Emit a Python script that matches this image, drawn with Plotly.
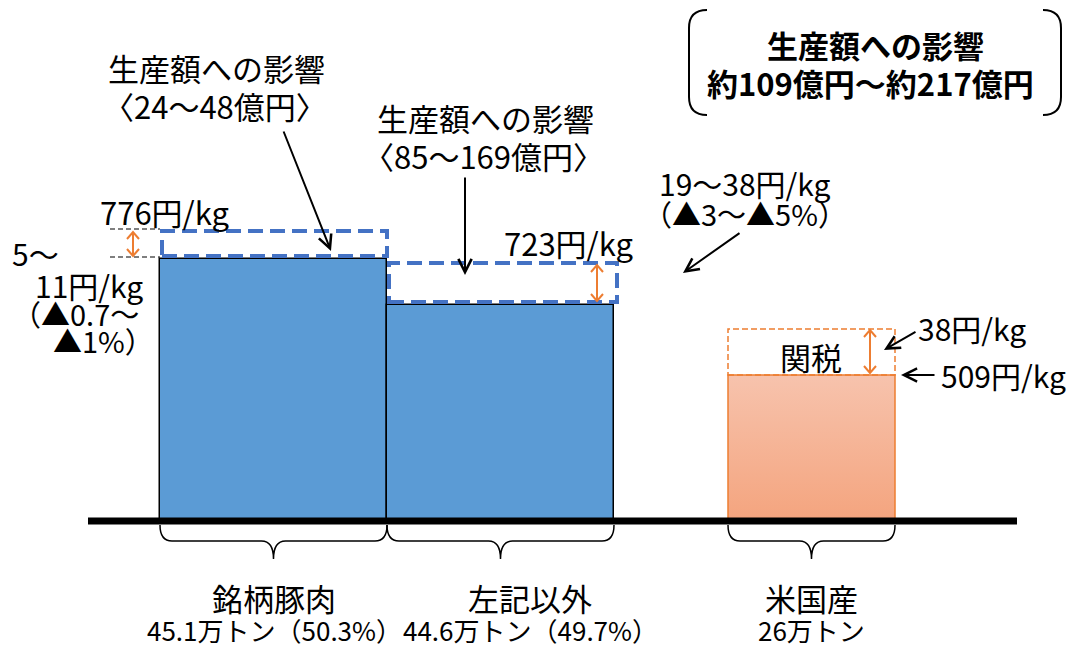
import plotly.graph_objects as go

# ---- data (schematic diagram) ----
categories = ["銘柄豚肉", "左記以外", "米国産"]
volume_labels = ["45.1万トン（50.3%）", "44.6万トン（49.7%）", "26万トン"]
prices = [776, 723, 509]          # 円/kg
tariff = 38                        # 円/kg
price_drop = ["5～11円/kg", "19～38円/kg"]
impact = ["〈24～48億円〉", "〈85～169億円〉"]
total_impact = "約109億円～約217億円"

# schematic geometry of the drawing (not to scale)
bar_left = [160, 387, 728]
bar_width = [227, 227, 167]
bar_height = [262, 216, 146]
drop_height = [25, 39]
tariff_height = 46

BLUE = "#5B9BD5"
DBLUE = "#4472C4"
ORANGE = "#ED7D31"
FONT = "Noto Sans CJK JP"
FS = 31

fig = go.Figure()

# blue bars
fig.add_trace(go.Bar(
    x=[bar_left[i] + bar_width[i] / 2 for i in range(2)],
    y=bar_height[:2], width=bar_width[:2], base=0,
    marker=dict(color=BLUE, line=dict(color="black", width=1.5)),
    hoverinfo="skip", showlegend=False))

# US bar with vertical gradient
l, w, h = bar_left[2], bar_width[2], bar_height[2]
fig.add_trace(go.Scatter(
    x=[l, l + w, l + w, l, l], y=[0, 0, h, h, 0], mode="lines", fill="toself",
    fillgradient=dict(type="vertical", colorscale=[[0, "#F4A47E"], [1, "#F7C3AD"]]),
    line=dict(color=ORANGE, width=1.5), hoverinfo="skip", showlegend=False))

shapes = []
# blue dashed boxes (price drop)
for i in range(2):
    x0 = bar_left[i] + 2
    x1 = bar_left[i] + bar_width[i] + (0 if i == 0 else 3)
    y0 = bar_height[i] + 3
    y1 = y0 + drop_height[i]
    shapes.append(dict(type="rect", xref="x", yref="y", x0=x0, x1=x1, y0=y0, y1=y1,
                       line=dict(color=DBLUE, width=4, dash="15px,7px"),
                       fillcolor="rgba(0,0,0,0)", layer="above"))
# tariff dashed box
shapes.append(dict(type="rect", xref="x", yref="y", x0=l, x1=l + w, y0=h, y1=h + tariff_height,
                   line=dict(color=ORANGE, width=1.5, dash="6px,3px"), fillcolor="rgba(0,0,0,0)"))
# black dashed guide lines left of bar 1
top1 = bar_height[0] + 3 + drop_height[0] + 2
for yy in [top1, bar_height[0] + 2]:
    shapes.append(dict(type="line", xref="x", yref="y", x0=110, x1=bar_left[0], y0=yy, y1=yy,
                       line=dict(color="black", width=1.2, dash="5px,3px")))
# baseline
shapes.append(dict(type="line", xref="x", yref="y", x0=88, x1=1017, y0=0, y1=0,
                   line=dict(color="black", width=7), layer="above"))

# braces
def brace(x0, x1, r=12):
    xc = (x0 + x1) / 2
    yt, ym, yb = -4, -20, -38
    return (f"M {x0},{yt} Q {x0},{ym} {x0+r},{ym} L {xc-r},{ym} Q {xc},{ym} {xc},{yb} "
            f"Q {xc},{ym} {xc+r},{ym} L {x1-r},{ym} Q {x1},{ym} {x1},{yt}")
for i in range(3):
    shapes.append(dict(type="path", xref="x", yref="y", path=brace(bar_left[i], bar_left[i] + bar_width[i]),
                       line=dict(color="black", width=1.5)))

# brackets around total
shapes.append(dict(type="path", xref="x", yref="y",
                   path="M 707,511 Q 689,511 689,493 L 689,424 Q 689,406 707,406",
                   line=dict(color="black", width=2)))
shapes.append(dict(type="path", xref="x", yref="y",
                   path="M 1043,511 Q 1061,511 1061,493 L 1061,424 Q 1061,406 1043,406",
                   line=dict(color="black", width=2)))

# orange double arrows (pixel-like units; 1 unit = 1 px in both axes)
def double_arrow(x, py_top, py_bot, hw=6, hl=7):
    yt, yb = 521 - py_top, 521 - py_bot
    p = (f"M {x},{yt} L {x},{yb} "
         f"M {x-hw},{yt-hl} L {x},{yt} L {x+hw},{yt-hl} "
         f"M {x-hw},{yb+hl} L {x},{yb} L {x+hw},{yb+hl}")
    shapes.append(dict(type="path", xref="x", yref="y", path=p,
                       line=dict(color=ORANGE, width=2), layer="above"))

double_arrow(133, 232, 256)
double_arrow(597, 265, 301)
double_arrow(870, 330, 373)

ann = []
def txt(t, x, py, xanchor="center", size=FS, bold=False):
    ann.append(dict(text=(f"<b>{t}</b>" if bold else t), x=x, y=521 - py, xref="x", yref="y",
                    xanchor=xanchor, yanchor="middle", showarrow=False,
                    font=dict(family=FONT, size=size, color="black")))

def arrow(hx, hy, tx, ty, color="black", width=2):
    ann.append(dict(text="", x=hx, y=521 - hy, ax=tx, ay=521 - ty, xref="x", yref="y",
                    axref="x", ayref="y", showarrow=True, arrowhead=5,
                    arrowsize=1.3, arrowwidth=width, arrowcolor=color))

txt("生産額への影響", 216, 67)
txt(impact[0], 215, 105)
txt("生産額への影響", 485, 117)
txt(impact[1], 483, 155)
txt(f"{prices[0]}円/kg", 165, 211)
txt("5～", 10, 253, "left", size=30)
txt("11円/kg", 145, 285, "right", size=30)
txt("（▲0.7～", 10, 313, "left", size=29)
txt("▲1%）", 156, 340, "right", size=29)
txt(f"{prices[1]}円/kg", 569, 242)
txt(price_drop[1], 745, 183, size=30)
txt("（▲3～▲5%）", 745, 213, size=29)
txt(f"{tariff}円/kg", 916, 328, "left", size=30)
txt(f"{prices[2]}円/kg", 939, 375, "left", size=30)
txt("関税", 811, 356)
centers = [274, 530, 811]
for i in range(3):
    txt(categories[i], centers[i], 597)
    txt(volume_labels[i], centers[i], 629, size=26)
txt("生産額への影響", 875, 44, size=31, bold=True)
txt(total_impact, 870, 82, size=31, bold=True)

arrow(331, 251, 283, 130)
arrow(465, 275, 465, 176)
arrow(683, 273, 741, 232)
arrow(884, 350, 917, 331)
arrow(901, 375, 936, 375)

fig.update_layout(
    width=1068, height=648, margin=dict(l=0, r=0, t=0, b=0),
    paper_bgcolor="white", plot_bgcolor="white",
    xaxis=dict(range=[0, 1068], visible=False, fixedrange=True),
    yaxis=dict(range=[-127, 521], visible=False, fixedrange=True),
    shapes=shapes, annotations=ann, bargap=0, showlegend=False)

fig.write_html("out.html", config={"displayModeBar": False},
               post_script="document.body.style.margin='0';document.body.style.overflow='hidden';")
